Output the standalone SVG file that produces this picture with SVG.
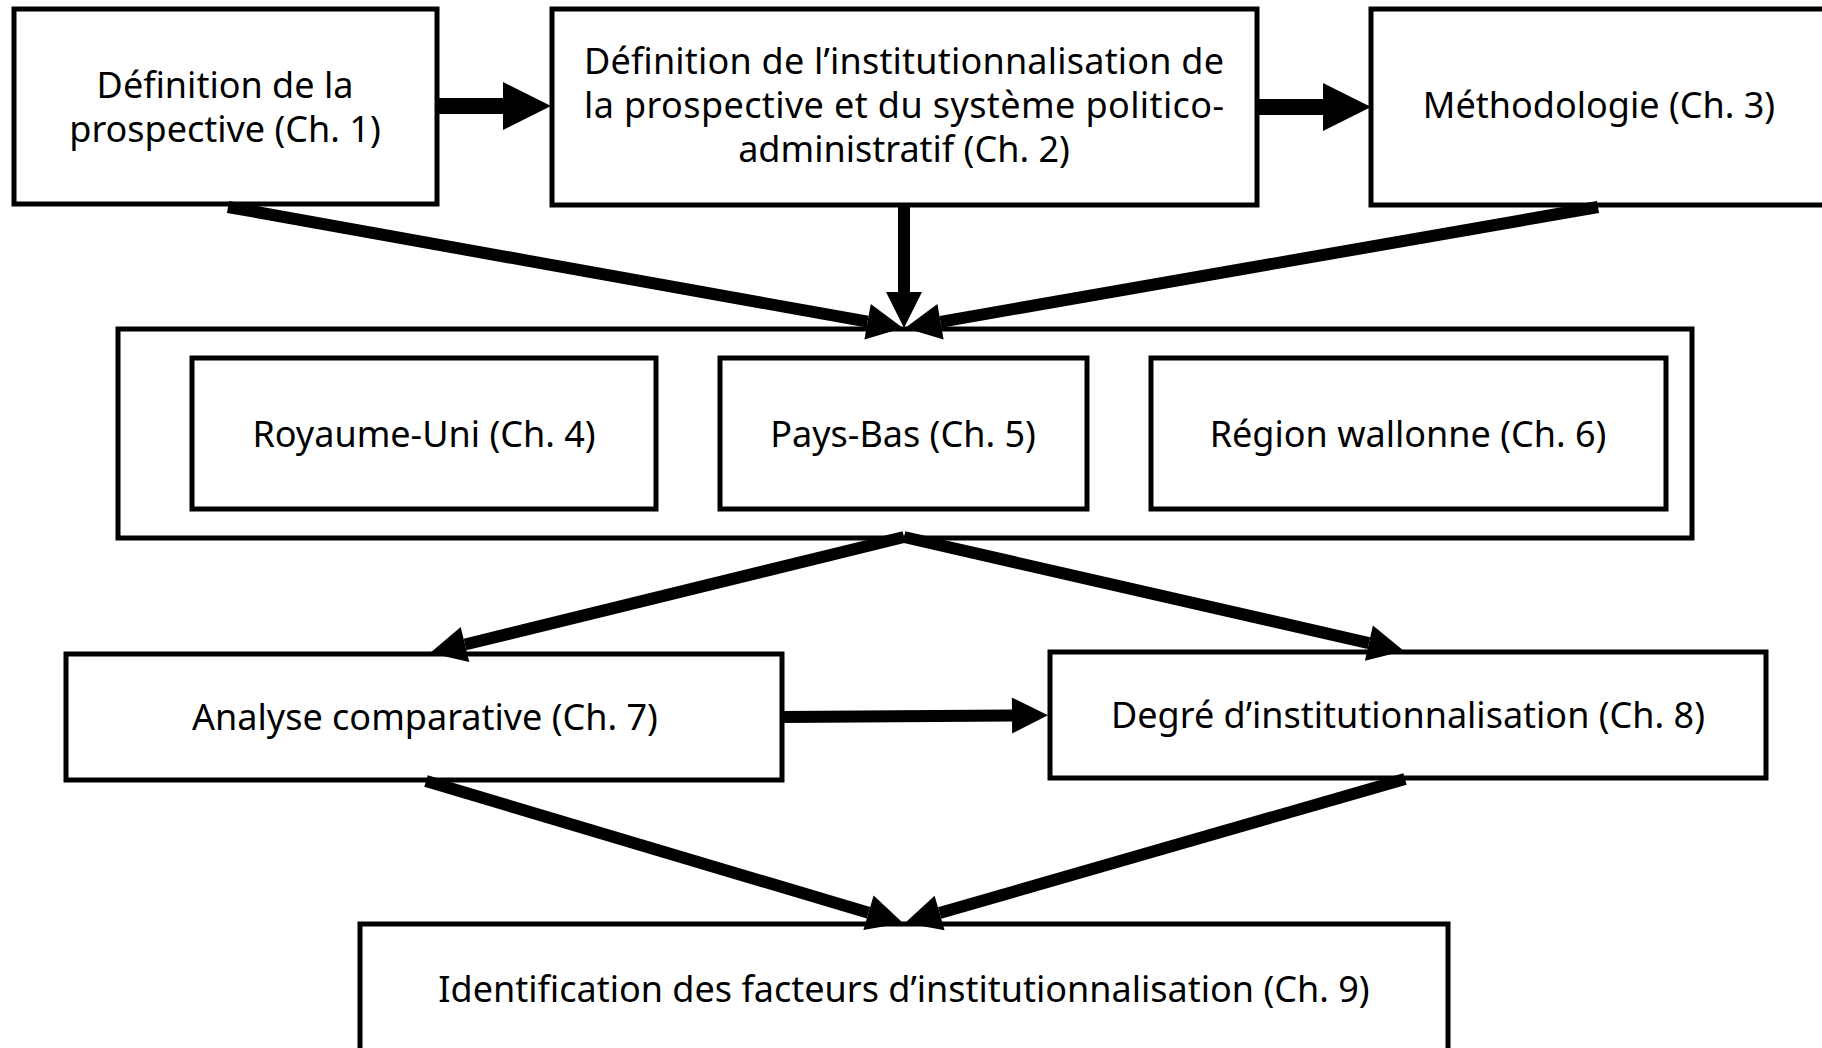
<svg xmlns="http://www.w3.org/2000/svg" width="1822" height="1048" viewBox="0 0 1822 1048">
<defs>
<style>
.box{fill:#fff;stroke:#000;stroke-width:5}
.t{font-family:"Noto Sans","Open Sans","DejaVu Sans",sans-serif;font-size:36px;fill:#000;text-anchor:middle}
.c{stroke:#000;fill:none;stroke-linecap:butt}
</style>
<marker id="ah" markerUnits="strokeWidth" markerWidth="3" markerHeight="3" refX="0" refY="1.5" orient="auto" overflow="visible">
<path d="M0,0 L3,1.5 L0,3 Z" fill="#000"/>
</marker>
</defs>
<rect width="1822" height="1048" fill="#fff"/>
<g id="n1"><rect class="box" x="14" y="9" width="423" height="195"/>
<text class="t"><tspan x="225" y="98">Définition de la</tspan><tspan x="225" y="142">prospective (Ch. 1)</tspan></text></g>
<g id="n2"><rect class="box" x="552" y="9" width="705" height="196"/>
<text class="t"><tspan x="904" y="74" textLength="640" lengthAdjust="spacing">Définition de l’institutionnalisation de</tspan><tspan x="904" y="118" textLength="640" lengthAdjust="spacing">la prospective et du système politico-</tspan><tspan x="904" y="162">administratif (Ch. 2)</tspan></text></g>
<g id="n3"><rect class="box" x="1371" y="9" width="456" height="196"/>
<text class="t" x="1599" y="118">Méthodologie (Ch. 3)</text></g>
<g id="grp"><rect class="box" x="118" y="329" width="1574" height="209"/></g>
<g id="n4"><rect class="box" x="192" y="358" width="464" height="151"/>
<text class="t" x="424" y="447">Royaume-Uni (Ch. 4)</text></g>
<g id="n5"><rect class="box" x="720" y="358" width="367" height="151"/>
<text class="t" x="903" y="447">Pays-Bas (Ch. 5)</text></g>
<g id="n6"><rect class="box" x="1151" y="358" width="515" height="151"/>
<text class="t" x="1408" y="447">Région wallonne (Ch. 6)</text></g>
<g id="n7"><rect class="box" x="66" y="654" width="716" height="126"/>
<text class="t" x="425" y="730">Analyse comparative (Ch. 7)</text></g>
<g id="n8"><rect class="box" x="1050" y="652" width="716" height="126"/>
<text class="t" x="1408" y="728">Degré d’institutionnalisation (Ch. 8)</text></g>
<g id="n9"><rect class="box" x="360" y="924" width="1088" height="140"/>
<text class="t" x="904" y="1002">Identification des facteurs d’institutionnalisation (Ch. 9)</text></g>
<g id="connectors">
<line class="c" x1="437" y1="106" x2="503" y2="106" stroke-width="16" marker-end="url(#ah)"/>
<line class="c" x1="1257" y1="107" x2="1323" y2="107" stroke-width="16" marker-end="url(#ah)"/>
<line class="c" x1="904" y1="205" x2="904" y2="292" stroke-width="12" marker-end="url(#ah)"/>
<line class="c" x1="228" y1="207" x2="867.6" y2="321.7" stroke-width="12" marker-end="url(#ah)"/>
<line class="c" x1="1598" y1="207" x2="940.5" y2="321.8" stroke-width="12" marker-end="url(#ah)"/>
<line class="c" x1="904" y1="537" x2="465" y2="644.5" stroke-width="12" marker-end="url(#ah)"/>
<line class="c" x1="904" y1="537" x2="1368.9" y2="643.1" stroke-width="12" marker-end="url(#ah)"/>
<line class="c" x1="782" y1="717" x2="1012" y2="715.5" stroke-width="12" marker-end="url(#ah)"/>
<line class="c" x1="426" y1="781" x2="868.5" y2="912.8" stroke-width="12" marker-end="url(#ah)"/>
<line class="c" x1="1405" y1="779" x2="939.6" y2="913" stroke-width="12" marker-end="url(#ah)"/>
</g>
</svg>
